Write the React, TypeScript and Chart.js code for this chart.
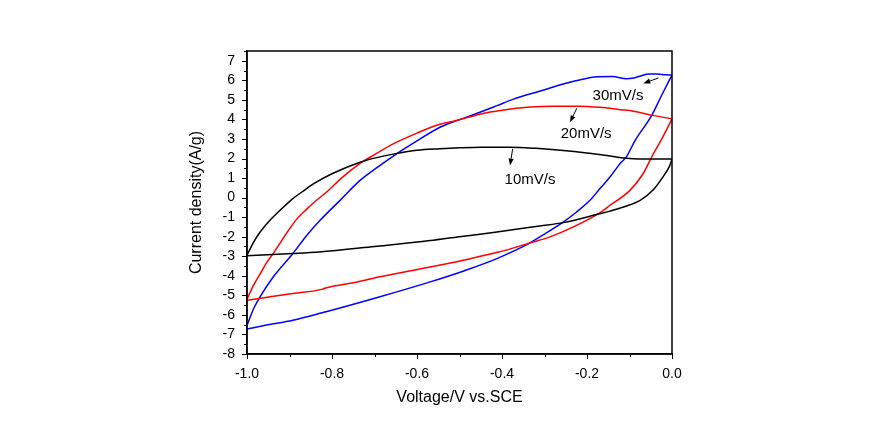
import React, { useEffect, useRef } from "react";
import { Chart, registerables } from "chart.js";

Chart.register(...registerables);

// 10 mV/s loop: anodic (forward) sweep and cathodic (reverse) sweep
const blackFwdX = [-1.0, -0.985, -0.969, -0.946, -0.922, -0.895, -0.87, -0.84, -0.8, -0.734, -0.7, -0.65, -0.6, -0.546, -0.5, -0.45, -0.381, -0.32, -0.256, -0.2, -0.153, -0.1, -0.05, 0.0];
const blackFwdY = [-2.95, -2.3, -1.76, -1.16, -0.65, -0.1, 0.3, 0.75, 1.22, 1.81, 2.02, 2.25, 2.42, 2.5, 2.55, 2.58, 2.58, 2.52, 2.41, 2.28, 2.15, 2.0, 1.97, 1.97];
const blackRevX = [0.0, -0.006, -0.02, -0.044, -0.075, -0.114, -0.146, -0.173, -0.256, -0.311, -0.412, -0.5, -0.569, -0.7, -0.83, -0.892, -1.0];
const blackRevY = [1.95, 1.6, 1.1, 0.4, -0.14, -0.48, -0.69, -0.84, -1.28, -1.45, -1.76, -2.0, -2.2, -2.5, -2.78, -2.86, -2.97];

// 20 mV/s loop
const redFwdX = [-1.0, -0.985, -0.969, -0.953, -0.938, -0.9, -0.883, -0.86, -0.84, -0.812, -0.775, -0.734, -0.7, -0.656, -0.6, -0.546, -0.507, -0.45, -0.4, -0.334, -0.28, -0.22, -0.169, -0.122, -0.091, -0.048, 0.0];
const redFwdY = [-5.2, -4.5, -3.9, -3.3, -2.85, -1.6, -1.1, -0.6, -0.2, 0.3, 1.05, 1.75, 2.2, 2.75, 3.3, 3.75, 3.94, 4.28, 4.47, 4.63, 4.68, 4.68, 4.62, 4.5, 4.42, 4.22, 4.03];
const redRevX = [0.0, -0.024, -0.044, -0.068, -0.099, -0.146, -0.173, -0.232, -0.287, -0.334, -0.41, -0.491, -0.569, -0.687, -0.75, -0.815, -0.822, -0.892, -0.96, -1.0];
const redRevY = [4.03, 3.0, 2.24, 1.22, 0.37, -0.4, -0.82, -1.5, -2.01, -2.32, -2.8, -3.2, -3.55, -4.05, -4.35, -4.62, -4.68, -4.9, -5.12, -5.25];

// 30 mV/s loop
const blueFwdX = [-1.0, -0.986, -0.969, -0.938, -0.892, -0.86, -0.828, -0.781, -0.734, -0.69, -0.648, -0.6, -0.546, -0.507, -0.46, -0.41, -0.373, -0.31, -0.256, -0.21, -0.177, -0.14, -0.107, -0.09, -0.07, -0.056, -0.035, -0.015, 0.0];
const blueFwdY = [-6.55, -5.76, -5.07, -4.05, -2.86, -1.95, -1.16, -0.14, 0.88, 1.6, 2.24, 2.9, 3.6, 3.94, 4.3, 4.72, 5.04, 5.45, 5.81, 6.05, 6.18, 6.19, 6.08, 6.12, 6.25, 6.32, 6.32, 6.28, 6.27];
const blueRevX = [0.0, -0.024, -0.048, -0.087, -0.107, -0.122, -0.146, -0.17, -0.193, -0.226, -0.256, -0.311, -0.334, -0.412, -0.49, -0.569, -0.687, -0.828, -0.892, -0.954, -1.0];
const blueRevY = [6.27, 5.25, 4.19, 2.92, 2.1, 1.75, 1.05, 0.45, -0.14, -0.76, -1.25, -2.01, -2.32, -3.12, -3.75, -4.31, -5.07, -5.92, -6.27, -6.52, -6.72];

const seriesLabels = ["10mV/s", "20mV/s", "30mV/s"];
const seriesColors = ["#000000", "#ff0000", "#0000ff"];

// annotation texts and arrows (data coordinates)
const annText = ["30mV/s", "20mV/s", "10mV/s"];
const annTextX = [-0.127, -0.202, -0.334];
const annTextY = [5.21, 3.28, 0.93];
const arrowFromX = [-0.032, -0.224, -0.375];
const arrowFromY = [6.12, 4.57, 2.49];
const arrowToX = [-0.0675, -0.24, -0.381];
const arrowToY = [5.84, 3.85, 1.64];

const xTitle = "Voltage/V vs.SCE";
const yTitle = "Current density(A/g)";

const FONT = "'Liberation Sans', Arial, sans-serif";

function zip(xs: number[], ys: number[]) {
  return xs.map((x, i) => ({ x, y: ys[i] }));
}

const framePlugin = {
  id: "frame",
  afterDraw(chart: any) {
    const { ctx, chartArea: a, scales } = chart;
    const xs = scales.x;
    const ys = scales.y;
    ctx.save();
    ctx.strokeStyle = "#000";
    ctx.lineWidth = 1.5;
    ctx.strokeRect(a.left, a.top, a.right - a.left, a.bottom - a.top);
    ctx.lineWidth = 1;
    ctx.beginPath();
    xs.ticks.forEach((t: any) => {
      const px = Math.round(xs.getPixelForValue(t.value)) + 0.5;
      const len = t.label ? 5 : 3;
      ctx.moveTo(px, a.bottom);
      ctx.lineTo(px, a.bottom + len);
    });
    ys.ticks.forEach((t: any) => {
      const py = Math.round(ys.getPixelForValue(t.value)) + 0.5;
      const len = t.label ? 5 : 3;
      ctx.moveTo(a.left, py);
      ctx.lineTo(a.left - len, py);
    });
    ctx.stroke();

    // annotations
    ctx.fillStyle = "#000";
    ctx.font = `15px ${FONT}`;
    ctx.textAlign = "center";
    ctx.textBaseline = "middle";
    annText.forEach((t, i) => {
      ctx.fillText(t, xs.getPixelForValue(annTextX[i]), ys.getPixelForValue(annTextY[i]));
      const x1 = xs.getPixelForValue(arrowFromX[i]);
      const y1 = ys.getPixelForValue(arrowFromY[i]);
      const x2 = xs.getPixelForValue(arrowToX[i]);
      const y2 = ys.getPixelForValue(arrowToY[i]);
      const ang = Math.atan2(y2 - y1, x2 - x1);
      const hl = 7;
      const hw = 2.6;
      const bx = x2 - hl * Math.cos(ang);
      const by = y2 - hl * Math.sin(ang);
      ctx.beginPath();
      ctx.lineWidth = 1;
      ctx.moveTo(x1, y1);
      ctx.lineTo(bx, by);
      ctx.stroke();
      ctx.beginPath();
      ctx.moveTo(x2, y2);
      ctx.lineTo(bx + hw * Math.sin(ang), by - hw * Math.cos(ang));
      ctx.lineTo(bx - hw * Math.sin(ang), by + hw * Math.cos(ang));
      ctx.closePath();
      ctx.fill();
    });
    ctx.restore();
  },
};

export default function App() {
  const ref = useRef<HTMLCanvasElement>(null);
  useEffect(() => {
    if (!ref.current) return;
    const loops = [
      [zip(blackFwdX, blackFwdY), zip(blackRevX, blackRevY)],
      [zip(redFwdX, redFwdY), zip(redRevX, redRevY)],
      [zip(blueFwdX, blueFwdY), zip(blueRevX, blueRevY)],
    ];
    const datasets: any[] = [];
    loops.forEach((branches, i) => {
      branches.forEach((d) => {
        datasets.push({
          label: seriesLabels[i],
          data: d,
          showLine: true,
          borderColor: seriesColors[i],
          backgroundColor: seriesColors[i],
          borderWidth: 1.5,
          pointRadius: 0,
          cubicInterpolationMode: "monotone",
        });
      });
    });
    const chart = new Chart(ref.current, {
      type: "scatter",
      data: { datasets },
      options: {
        animation: false,
        responsive: false,
        devicePixelRatio: 1,
        layout: { padding: { left: 180, right: 221, top: 51, bottom: 0 } },
        plugins: { legend: { display: false }, tooltip: { enabled: false } },
        scales: {
          x: {
            type: "linear",
            min: -1,
            max: 0,
            afterFit: (s: any) => { s.height = 71; },
            ticks: {
              stepSize: 0.1,
              autoSkip: false,
              maxRotation: 0,
              padding: 7,
              color: "#000",
              font: { family: FONT, size: 14 },
              callback: (v: any) => {
                const n = Math.round(Number(v) * 10);
                return n % 2 === 0 ? (n / 10).toFixed(1) : "";
              },
            },
            grid: { display: true, drawOnChartArea: false, drawTicks: true, tickLength: 5, tickColor: "rgba(0,0,0,0)", color: "rgba(0,0,0,0)" },
            border: { display: true, color: "#000", width: 1.5 },
            title: { display: true, text: xTitle, color: "#000", font: { family: FONT, size: 16 }, padding: { top: 0, bottom: 18 } },
          },
          y: {
            type: "linear",
            min: -8,
            max: 7.5,
            afterFit: (s: any) => { s.width = 67; },
            ticks: {
              stepSize: 0.5,
              autoSkip: false,
              padding: 7,
              color: "#000",
              font: { family: FONT, size: 14 },
              callback: (v: any) => {
                const n = Math.round(Number(v) * 2);
                return n % 2 === 0 ? String(n / 2) : "";
              },
            },
            grid: { display: true, drawOnChartArea: false, drawTicks: true, tickLength: 5, tickColor: "rgba(0,0,0,0)", color: "rgba(0,0,0,0)" },
            border: { display: true, color: "#000", width: 1.5 },
            title: { display: true, text: yTitle, color: "#000", font: { family: FONT, size: 16 }, padding: { top: 7, bottom: 0 } },
          },
        },
      },
      plugins: [framePlugin],
    } as any);
    return () => chart.destroy();
  }, []);
  return (
    <div style={{ position: "fixed", left: 0, top: 0, width: 893, height: 425, background: "#fff" }}>
      <canvas ref={ref} width={893} height={425} />
    </div>
  );
}
